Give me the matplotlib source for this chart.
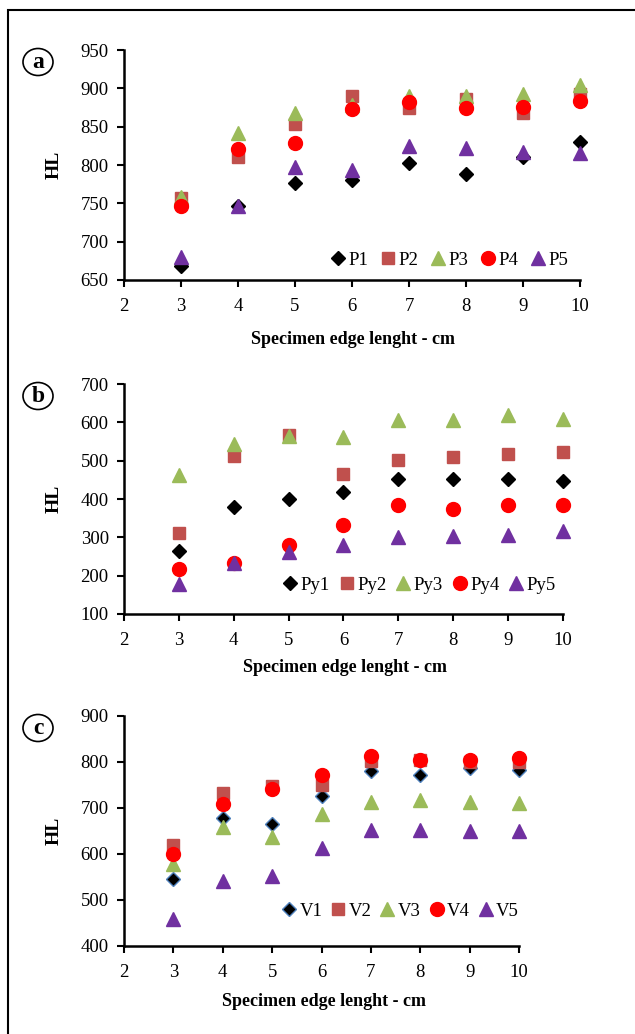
import matplotlib
matplotlib.use("Agg")
import matplotlib.pyplot as plt
from matplotlib.patches import Rectangle, Ellipse

plt.rcParams['font.family'] = ['Liberation Serif', 'DejaVu Serif']

x = [3, 4, 5, 6, 7, 8, 9, 10]

# Panel a
P1 = [668, 746, 777, 781, 803, 788, 811, 830]
P2 = [757, 811, 853, 890, 874, 886, 868, 893]
P3 = [758, 842, 868, 878, 890, 890, 893, 904]
P4 = [747, 821, 829, 873, 882, 875, 876, 883]
P5 = [680, 747, 797, 793, 825, 822, 817, 816]

# Panel b
Py1 = [264, 378, 399, 417, 452, 452, 452, 446]
Py2 = [312, 511, 566, 465, 503, 509, 517, 523]
Py3 = [463, 544, 564, 561, 607, 607, 620, 610]
Py4 = [217, 232, 279, 332, 384, 374, 385, 384]
Py5 = [178, 232, 263, 280, 300, 303, 307, 316]

# Panel c
V1 = [545, 679, 666, 727, 780, 772, 788, 783]
V2 = [620, 733, 748, 749, 803, 804, 801, 801]
V3 = [578, 658, 638, 686, 714, 717, 714, 710]
V4 = [601, 708, 741, 772, 812, 804, 804, 808]
V5 = [459, 542, 553, 614, 652, 652, 649, 649]

xlabel = "Specimen edge lenght - cm"
ylabel = "HL"

W, H = 635, 1034
fig = plt.figure(figsize=(W / 100, H / 100), dpi=100)

# outer frame
fig.patches.append(Rectangle((8 / W, -0.1), 1.2, (1034 - 10) / H + 0.1, transform=fig.transFigure,
                             fill=False, edgecolor='black', linewidth=1.5))

styles = [
    dict(marker='D', color='black', ms=7, mec='black'),
    dict(marker='s', color='#C0504D', ms=9, mec='#C0504D'),
    dict(marker='^', color='#9BBB59', ms=10, mec='#9BBB59'),
    dict(marker='o', color='#FF0000', ms=10, mec='#FF0000'),
    dict(marker='^', color='#7030A0', ms=10, mec='#7030A0'),
]

panels = [
    dict(letter='a', series=[P1, P2, P3, P4, P5], names=['P1', 'P2', 'P3', 'P4', 'P5'],
         ylim=(650, 950), step=50, box=(124, 580, 50, 280), xlab_y=340, leg=(446, 260),
         d_edge='black', cs=0.3, xlab_x=353),
    dict(letter='b', series=[Py1, Py2, Py3, Py4, Py5], names=['Py1', 'Py2', 'Py3', 'Py4', 'Py5'],
         ylim=(100, 700), step=100, box=(124, 563, 384, 614), xlab_y=668, leg=(416, 585),
         d_edge='black', cs=0.15, xlab_x=345),
    dict(letter='c', series=[V1, V2, V3, V4, V5], names=['V1', 'V2', 'V3', 'V4', 'V5'],
         ylim=(400, 900), step=100, box=(124, 519, 716, 946), xlab_y=1002, leg=(397, 911),
         d_edge='#4F81BD', cs=0.1, xlab_x=324),
]

for p in panels:
    l, r, t, b = p['box']
    ax = fig.add_axes([l / W, 1 - b / H, (r - l) / W, (b - t) / H])
    handles = []
    for i, (s, nm) in enumerate(zip(p['series'], p['names'])):
        st = dict(styles[i])
        if i == 0:
            st['mec'] = p['d_edge']
        h, = ax.plot(x, s, linestyle='none', marker=st['marker'], color=st['color'],
                     markersize=st['ms'], markeredgecolor=st['mec'], markeredgewidth=1,
                     clip_on=False, label=nm, zorder=3)
        handles.append(h)
    ax.set_xlim(2, 10)
    ax.set_ylim(*p['ylim'])
    ax.set_xticks(range(2, 11))
    ax.set_yticks(range(p['ylim'][0], p['ylim'][1] + 1, p['step']))
    for sp in ['top', 'right']:
        ax.spines[sp].set_visible(False)
    for sp in ['left', 'bottom']:
        ax.spines[sp].set_linewidth(1.8)
    ax.tick_params(direction='out', length=5, width=1.5, labelsize=13.5, pad=8)
    ax.tick_params(axis='y', pad=6)
    ax.patch.set_alpha(0)
    ax.set_ylabel(ylabel, fontsize=14, fontweight='bold')
    ax.yaxis.set_label_coords((63 - l) / (r - l), 0.5)
    fig.text(p['xlab_x'] / W, 1 - p['xlab_y'] / H, xlabel,
             ha='center', va='center', fontsize=13, fontweight='bold')
    lx, ly = p['leg']
    ax.legend(handles=handles, loc='center', bbox_to_anchor=((lx - l) / (r - l), (b - ly) / (b - t)),
              ncol=5, frameon=False, handletextpad=-0.2, columnspacing=p['cs'], handlelength=1.5,
              fontsize=13.5, borderpad=0)
    # circled letter
    cx, cy = 38, t + 12
    fig.patches.append(Ellipse((cx / W, 1 - cy / H), 30 / W, 27 / H, transform=fig.transFigure,
                               fill=False, edgecolor='black', linewidth=1.2))
    fig.text(cx / W, 1 - cy / H, p['letter'], ha='center', va='center', fontsize=17,
             fontweight='bold')

fig.savefig('out.png', dpi=100)
